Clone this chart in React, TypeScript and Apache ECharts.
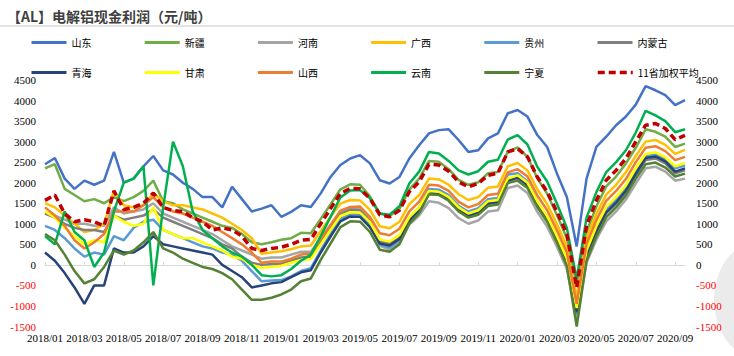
import React, { useEffect, useRef } from "react";
import * as echarts from "echarts";

const dates = [
  "2018/01/01","2018/01/16","2018/02/01","2018/02/16","2018/03/01","2018/03/16","2018/04/01","2018/04/16",
  "2018/05/01","2018/05/16","2018/06/01","2018/06/16","2018/07/01","2018/07/16","2018/08/01","2018/08/16",
  "2018/09/01","2018/09/16","2018/10/01","2018/10/16","2018/11/01","2018/11/16","2018/12/01","2018/12/16",
  "2019/01/01","2019/01/16","2019/02/01","2019/02/16","2019/03/01","2019/03/16","2019/04/01","2019/04/16",
  "2019/05/01","2019/05/16","2019/06/01","2019/06/16","2019/07/01","2019/07/16","2019/08/01","2019/08/16",
  "2019/09/01","2019/09/16","2019/10/01","2019/10/16","2019/11/01","2019/11/16","2019/12/01","2019/12/16",
  "2020/01/01","2020/01/16","2020/02/01","2020/02/16","2020/03/01","2020/03/16","2020/04/01","2020/04/16",
  "2020/05/01","2020/05/16","2020/06/01","2020/06/16","2020/07/01","2020/07/16","2020/08/01","2020/08/16",
  "2020/09/01","2020/09/16"
];

const seriesNames = ["山东","新疆","河南","广西","贵州","内蒙古","青海","甘肃","山西","云南","宁夏","11省加权平均"];

const shandong = [2450,2600,2100,1850,2050,1950,2050,2750,2000,2100,2400,2650,2300,2200,2000,1850,1650,1650,1400,1900,1600,1300,
  1370,1450,1170,1290,1450,1410,1740,2140,2430,2590,2670,2470,2060,1980,2140,2590,2910,3200,3280,3300,3040,2750,2790,3080,3200,3690,3770,3610,3160,2870,2220,1650,450,2100,2870,3120,3400,3610,3900,4350,4250,4130,3890,4010];
const xinjiang = [2350,2450,1850,1700,1550,1600,1500,1650,1550,1650,1800,2050,1550,1500,1350,1250,1150,1050,950,900,750,550,
  500,550,610,650,780,770,1120,1470,1840,1960,1950,1670,1250,1190,1360,1830,2100,2530,2510,2330,2070,1950,2010,2230,2260,2750,2860,2630,2110,1730,1210,650,-500,800,1420,1910,2150,2470,2850,3300,3240,3120,2870,2950];
const henan = [1250,1200,1100,1000,1000,950,950,1400,1250,1300,1350,1500,1250,1150,1050,950,850,750,600,450,350,250,
  150,180,180,250,320,320,650,970,1290,1380,1350,1070,470,370,550,980,1200,1550,1510,1380,1140,1000,1080,1300,1330,1870,1930,1750,1290,930,440,-100,-1300,50,620,1060,1300,1590,1980,2350,2390,2270,2050,2100];
const guangxi = [1500,1400,1200,1000,800,850,1000,1800,1450,1400,1450,1750,1550,1450,1450,1400,1350,1250,1150,1000,850,650,
  270,300,330,380,450,470,820,1170,1490,1580,1570,1340,940,890,1050,1480,1700,2100,2080,1950,1720,1580,1650,1880,1910,2400,2480,2300,1840,1480,990,450,-800,650,1240,1710,1950,2260,2650,3000,3040,2920,2700,2800];
const guizhou = [950,850,650,400,200,300,250,700,600,900,1050,1100,850,750,650,550,450,400,300,250,100,-150,
  -400,-380,-370,-280,-150,-80,350,750,1120,1240,1230,970,500,420,610,1130,1400,1850,1830,1700,1440,1300,1380,1600,1630,2200,2230,2030,1540,1160,670,130,-1100,300,890,1360,1600,1890,2300,2650,2690,2570,2350,2420];
const neimenggu = [1250,1150,1000,900,850,850,800,1200,1100,1150,1200,1350,1150,1050,950,850,750,650,500,400,200,50,
  0,20,30,100,180,200,550,890,1240,1340,1330,1070,570,520,680,1080,1300,1730,1710,1580,1320,1180,1260,1480,1510,2030,2110,1930,1460,1100,610,70,-1200,200,790,1260,1480,1770,2180,2550,2590,2470,2230,2300];
const qinghai = [300,100,-200,-550,-950,-500,-500,400,300,300,450,700,500,450,400,350,300,250,0,-150,-300,-550,
  -500,-450,-420,-300,-180,-130,300,690,1060,1180,1170,920,520,470,630,1080,1320,1750,1730,1600,1340,1200,1280,1500,1530,2050,2130,1950,1490,1130,640,100,-1150,250,820,1280,1520,1810,2220,2600,2640,2520,2270,2350];
const gansu = [1300,1150,900,700,500,600,550,1200,1050,950,1000,1400,850,750,650,650,550,450,350,200,150,0,
  -70,-50,-20,50,120,140,500,850,1190,1280,1270,1040,620,570,730,1160,1400,1800,1780,1650,1400,1250,1330,1550,1580,2100,2180,2000,1540,1180,690,150,-1050,350,940,1410,1650,1940,2350,2700,2740,2620,2400,2480];
const shanxi = [1400,1200,950,600,400,550,750,1300,1300,1300,1450,1650,1400,1300,1250,1150,1050,950,800,650,500,300,
  50,80,80,150,250,270,620,970,1320,1410,1420,1170,770,720,880,1300,1540,1950,1930,1800,1540,1400,1480,1700,1730,2250,2330,2150,1690,1330,840,300,-950,500,1090,1560,1800,2090,2500,2850,2890,2770,2550,2630];
const yunnan = [700,500,1300,800,600,-50,300,1300,2000,2100,2400,-500,1400,3000,2400,1300,850,650,450,300,200,0,
  -250,-280,-250,-100,100,250,700,1170,1640,1810,1820,1620,1250,1220,1430,1980,2270,2750,2710,2530,2300,2200,2280,2510,2560,3050,3160,2930,2390,2030,1490,900,-350,1150,1770,2260,2500,2790,3220,3750,3640,3500,3230,3300];
const ningxia = [750,600,250,-150,-450,-350,-50,350,250,350,550,800,400,300,150,50,-50,-100,-200,-350,-600,-850,
  -850,-800,-720,-600,-400,-330,120,520,920,1060,1050,800,370,320,500,1000,1260,1720,1700,1560,1300,1150,1220,1430,1470,1990,2050,1870,1410,1050,540,-30,-1500,100,690,1160,1400,1690,2100,2450,2490,2370,2150,2220];
const avg11 = [1570,1700,1250,1050,1100,1050,950,1800,1350,1400,1500,1750,1400,1320,1300,1150,1050,850,900,850,700,400,
  350,400,430,500,600,620,1000,1370,1740,1860,1850,1620,1220,1170,1330,1780,2020,2450,2430,2280,2020,1900,1980,2180,2230,2750,2830,2630,2140,1780,1290,750,-550,950,1570,2060,2300,2590,3000,3400,3440,3320,3050,3150];

const seriesValues = [shandong, xinjiang, henan, guangxi, guizhou, neimenggu, qinghai, gansu, shanxi, yunnan, ningxia, avg11];
const colors = ["#4472C4","#70AD47","#A5A5A5","#FFC000","#5B9BD5","#7F7F7F","#264478","#FFFF00","#ED7D31","#00B050","#548235","#C00000"];

export default function App() {
  const ref = useRef<HTMLDivElement>(null);
  useEffect(() => {
    if (!ref.current) return;
    const chart = echarts.init(ref.current, undefined, { renderer: "svg" });
    const serif = "Liberation Serif";
    const cjk = "Noto Sans CJK SC";
    const yLabel = {
      fontFamily: serif,
      fontSize: 11,
      formatter: (v: number) => String(v),
      color: (v: any) => (Number(v) < 0 ? "#FF0000" : "#000000"),
    };
    const option: any = {
      animation: false,
      backgroundColor: "#ffffff",
      title: {
        text: "【AL】电解铝现金利润（元/吨）",
        left: 2,
        top: 4,
        textStyle: { fontSize: 14, fontWeight: "bold", color: "#404040", fontFamily: cjk },
      },
      graphic: [
        { type: "rect", shape: { x: 0, y: 25, width: 734, height: 2 }, style: { fill: "#E4E4E4" }, silent: true },
        { type: "ellipse", shape: { cx: 758, cy: 300, rx: 44, ry: 58 }, style: { fill: "#EBEBEB" }, silent: true, z: -10 },
      ],
      legend: seriesNames.map((n, k) => ({
        data: [n],
        left: 30 + (k % 6) * 113.2,
        top: k < 6 ? 37 : 67,
        padding: 0,
        itemWidth: 35,
        itemHeight: 14,
        itemGap: 0,
        selectedMode: false,
        itemStyle: { opacity: 0 },
        lineStyle: { width: k === 11 ? 3.5 : 3 },
        textStyle: { fontSize: 10, color: "#000", fontFamily: cjk },
      })),
      grid: { left: 45, right: 49, top: 80, bottom: 29.5 },
      xAxis: [
        {
          type: "category",
          data: dates,
          boundaryGap: false,
          axisLine: { onZero: true, lineStyle: { color: "#D9D9D9", width: 1 } },
          axisTick: { show: true, inside: true, length: 3, interval: (i: number) => i % 4 === 0, lineStyle: { color: "#D9D9D9" } },
          axisLabel: { show: false },
          splitLine: { show: false },
        },
        {
          type: "category",
          data: dates,
          boundaryGap: false,
          position: "bottom",
          axisLine: { show: false, onZero: false },
          axisTick: { show: false },
          axisLabel: {
            show: true,
            margin: 6,
            interval: (i: number) => i % 4 === 0,
            formatter: (v: string) => v.slice(0, 7),
            fontFamily: serif,
            fontSize: 11,
            color: "#000",
          },
          splitLine: { show: false },
        },
      ],
      yAxis: [
        {
          type: "value", position: "left", min: -1500, max: 4500, interval: 500,
          axisLine: { show: false }, axisTick: { show: false }, splitLine: { show: false },
          axisLabel: { ...yLabel, margin: 9 },
        },
        {
          type: "value", position: "right", min: -1500, max: 4500, interval: 500,
          axisLine: { show: false }, axisTick: { show: false }, splitLine: { show: false },
          axisLabel: { ...yLabel, margin: 11 },
        },
      ],
      series: seriesNames.map((n, k) => ({
        name: n,
        type: "line",
        xAxisIndex: 0,
        yAxisIndex: 0,
        data: seriesValues[k],
        symbol: "none",
        color: colors[k],
        lineStyle: k === 11
          ? { color: colors[k], width: 3.5, type: [7, 4] }
          : { color: colors[k], width: 2.5 },
        z: 2 + k,
      })),
    };
    chart.setOption(option);
    return () => chart.dispose();
  }, []);
  return <div ref={ref} style={{ position: "fixed", left: 0, top: 0, width: 734, height: 356 }} />;
}
